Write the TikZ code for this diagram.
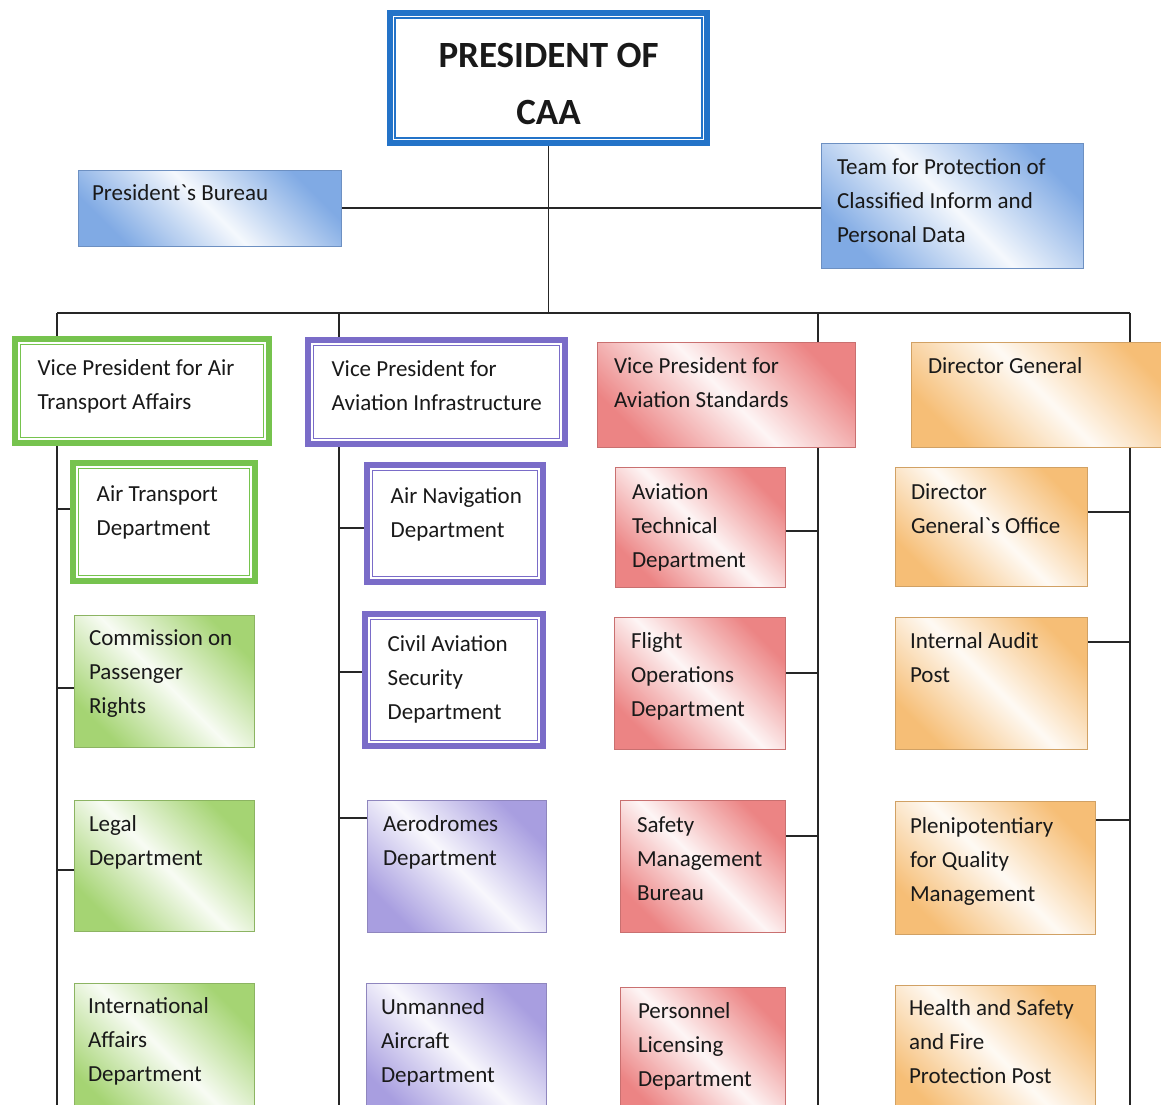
\documentclass[tikz,border=0pt]{standalone}
\usepackage{fontspec}
\setmainfont{Carlito}
\usetikzlibrary{positioning, fit, backgrounds}

\definecolor{presblue}{RGB}{35,115,200}
\definecolor{capblue}{RGB}{128,170,228}
\definecolor{vpgreen}{RGB}{118,195,78}
\definecolor{capgreen}{RGB}{165,212,115}
\definecolor{vppurple}{RGB}{122,108,200}
\definecolor{cappurple}{RGB}{168,158,224}
\definecolor{capred}{RGB}{236,132,132}
\definecolor{caporange}{RGB}{246,190,118}

\begin{document}
\begin{tikzpicture}[
			x=0.5pt, y=-0.5pt,
			framed/.style={draw=#1, line width=2.7pt, fill=white, inner sep=0pt},
			shaded/.style={draw=#1!85!black, line width=0.4pt, left color=#1, right color=#1, middle color=#1!8, shading angle=135, inner sep=0pt},
			txt/.style={anchor=base west, align=left, inner sep=0pt, text=black!90, font=\fontsize{11.5}{17}\selectfont},
			link/.style={draw=black!85, line width=0.7pt},
			]
			
			\useasboundingbox (0,0) rectangle (1161,1104);
			
			%% ── Top: president, bureau, team ───────────────────────────────────────
			\node[framed=presblue, line width=3pt, fit={(390,13) (707,143)}] (pres) {};
			\node[txt, anchor=center, align=center, font=\bfseries\fontsize{18.5}{28.5}\selectfont] (pres-t) at ([shift={(0,6)}]pres.center) {PRESIDENT OF\\CAA};
			
			\node[shaded=capblue, fit={(78,170) (341,246)}] (bureau) {};
			\node[txt] (bureau-t) at ([shift={(14,31)}]bureau.north west) {President\textasciigrave{}s Bureau};
			
			\node[shaded=capblue, fit={(821,143) (1083,268)}] (team) {};
			\node[txt] (team-t) at ([shift={(16,100)}]team.north west) {Team for Protection of\\Classified Inform and\\Personal Data};
			
			%% ── Column 1: air transport ────────────────────────────────────────────
			\node[framed=vpgreen, fit={(15,339) (269,443)}] (vpat) {};
			\node[txt] (vpat-t) at ([shift={(25,73)}]vpat.north west) {Vice President for Air\\Transport Affairs};
			
			\node[framed=vpgreen, fit={(73,463) (255,581)}] (atd) {};
			\node[txt] (atd-t) at ([shift={(26,75)}]atd.north west) {Air Transport\\Department};
			
			\node[shaded=capgreen, fit={(74,615) (254,747)}] (cpr) {};
			\node[txt] (cpr-t) at ([shift={(15,99)}]cpr.north west) {Commission on\\Passenger\\Rights};
			
			\node[shaded=capgreen, fit={(74,800) (254,931)}] (legal) {};
			\node[txt] (legal-t) at ([shift={(15,66)}]legal.north west) {Legal\\Department};
			
			\node[shaded=capgreen, fit={(74,983) (254,1120)}] (iad) {};
			\node[txt] (iad-t) at ([shift={(14,99)}]iad.north west) {International\\Affairs\\Department};
			
			%% ── Column 2: aviation infrastructure ──────────────────────────────────
			\node[framed=vppurple, fit={(308,340) (565,444)}] (vpai) {};
			\node[txt] (vpai-t) at ([shift={(26,73)}]vpai.north west) {Vice President for\\Aviation Infrastructure};
			
			\node[framed=vppurple, fit={(367,465) (543,582)}] (and) {};
			\node[txt] (and-t) at ([shift={(26,75)}]and.north west) {Air Navigation\\Department};
			
			\node[framed=vppurple, fit={(365,614) (543,746)}] (casd) {};
			\node[txt] (casd-t) at ([shift={(25,108)}]casd.north west) {Civil Aviation\\Security\\Department};
			
			\node[shaded=cappurple, fit={(367,800) (546,932)}] (aero) {};
			\node[txt] (aero-t) at ([shift={(16,66)}]aero.north west) {Aerodromes\\Department};
			
			\node[shaded=cappurple, fit={(366,983) (546,1120)}] (uad) {};
			\node[txt] (uad-t) at ([shift={(15,100)}]uad.north west) {Unmanned\\Aircraft\\Department};
			
			%% ── Column 3: aviation standards ───────────────────────────────────────
			\node[shaded=capred, fit={(597,342) (855,447)}] (vpas) {};
			\node[txt] (vpas-t) at ([shift={(17,66)}]vpas.north west) {Vice President for\\Aviation Standards};
			
			\node[shaded=capred, fit={(615,467) (785,587)}] (atech) {};
			\node[txt] (atech-t) at ([shift={(17,101)}]atech.north west) {Aviation\\Technical\\Department};
			
			\node[shaded=capred, fit={(614,617) (785,749)}] (fod) {};
			\node[txt] (fod-t) at ([shift={(17,100)}]fod.north west) {Flight\\Operations\\Department};
			
			\node[shaded=capred, fit={(620,800) (785,932)}] (smb) {};
			\node[txt] (smb-t) at ([shift={(17,101)}]smb.north west) {Safety\\Management\\Bureau};
			
			\node[shaded=capred, fit={(620,987) (785,1120)}] (pld) {};
			\node[txt] (pld-t) at ([shift={(18,100)}]pld.north west) {Personnel\\Licensing\\Department};
			
			%% ── Column 4: director general ─────────────────────────────────────────
			\node[shaded=caporange, fit={(911,342) (1175,447)}] (dg) {};
			\node[txt] (dg-t) at ([shift={(17,32)}]dg.north west) {Director General};
			
			\node[shaded=caporange, fit={(895,467) (1087,586)}] (dgo) {};
			\node[txt] (dgo-t) at ([shift={(16,67)}]dgo.north west) {Director\\General\textasciigrave{}s Office};
			
			\node[shaded=caporange, fit={(895,617) (1087,749)}] (iap) {};
			\node[txt] (iap-t) at ([shift={(15,66)}]iap.north west) {Internal Audit\\Post};
			
			\node[shaded=caporange, fit={(895,801) (1095,934)}] (pqm) {};
			\node[txt] (pqm-t) at ([shift={(15,101)}]pqm.north west) {Plenipotentiary\\for Quality\\Management};
			
			\node[shaded=caporange, fit={(895,985) (1095,1120)}] (hsf) {};
			\node[txt] (hsf-t) at ([shift={(14,99)}]hsf.north west) {Health and Safety\\and Fire\\Protection Post};
			
			%% inner rule of the framed boxes
			\foreach \n/\c in {pres/presblue, vpat/vpgreen, atd/vpgreen, vpai/vppurple, and/vppurple, casd/vppurple}
			\draw[\c, line width=0.7pt] ([shift={(8,8)}]\n.north west) rectangle ([shift={(-8,-8)}]\n.south east);
			
			%% ── Connectors (behind the boxes) ──────────────────────────────────────
			\begin{scope}[on background layer]
				\coordinate (busL) at (57,313);
				\coordinate (busR) at (1130,313);
				\coordinate (c1) at (57,1110);
				\coordinate (c2) at (339,1110);
				\coordinate (c3) at (818,1110);
				\coordinate (c4) at (1130,1110);
				
				\draw[link] (pres.south) -- (pres.south |- busL);
				\draw[link] (bureau.east) -- (team.west |- bureau.east);
				\draw[link] (busL) -- (busR);
				\foreach \c in {c1, c2, c3, c4}
				\draw[link] (\c |- busL) -- (\c);
				
				\foreach \n/\y in {atd/509, cpr/688, legal/870}
				\draw[link] (\n.west |- 0,\y) -- (c1 |- 0,\y);
				\foreach \n/\y in {and/528, casd/672, aero/818}
				\draw[link] (\n.west |- 0,\y) -- (c2 |- 0,\y);
				\foreach \n/\y in {atech/531, fod/673, smb/836}
				\draw[link] (\n.east |- 0,\y) -- (c3 |- 0,\y);
				\foreach \n/\y in {dgo/512, iap/642, pqm/820}
				\draw[link] (\n.east |- 0,\y) -- (c4 |- 0,\y);
			\end{scope}
			
		\end{tikzpicture}
\end{document}
